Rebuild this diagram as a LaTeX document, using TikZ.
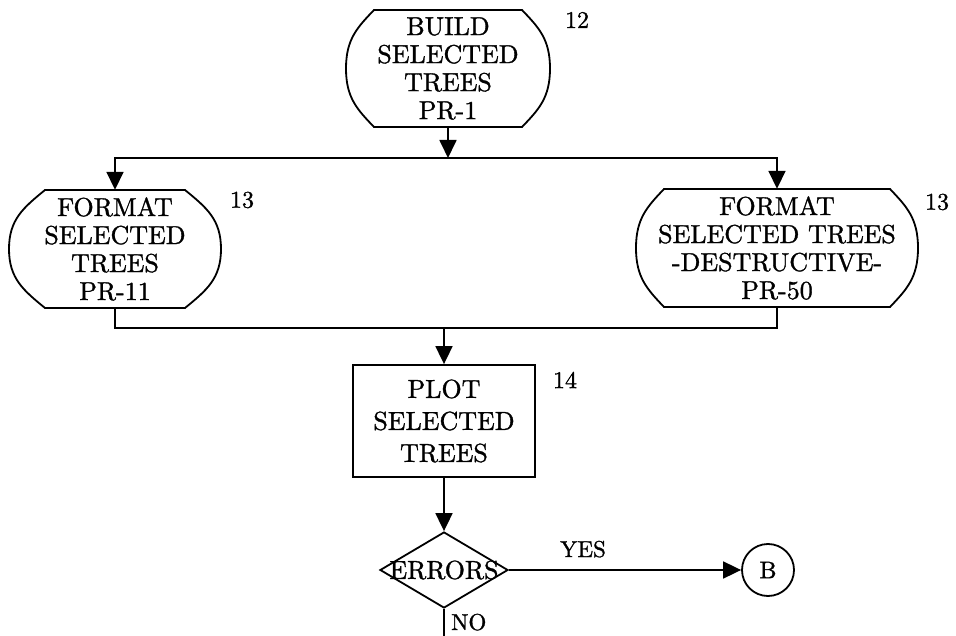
\documentclass[tikz,border=0pt]{standalone}
\usepackage{fontspec}
\setmainfont{lmroman10-regular}[Extension=.otf, FakeBold=1.2]
\usetikzlibrary{arrows.meta,calc,shapes.geometric}

% Outline of a terminal box: flat top and bottom, bulging sides.
% #1 node name, #2 half width of the flat edges, #3 bulge, #4 half height
\newcommand\termoutline[4]{%
  \draw[line]
    ($(#1.center)+(-#2,-#4)$) -- ($(#1.center)+(#2,-#4)$)
    .. controls ($(#1.center)+(#2+0.6*#3,-0.7*#4)$) and ($(#1.center)+(#2+#3,-0.5*#4)$)
    .. ($(#1.center)+(#2+#3,0)$)
    .. controls ($(#1.center)+(#2+#3,0.5*#4)$) and ($(#1.center)+(#2+0.6*#3,0.7*#4)$)
    .. ($(#1.center)+(#2,#4)$)
    -- ($(#1.center)+(-#2,#4)$)
    .. controls ($(#1.center)+(-#2-0.6*#3,0.7*#4)$) and ($(#1.center)+(-#2-#3,0.5*#4)$)
    .. ($(#1.center)+(-#2-#3,0)$)
    .. controls ($(#1.center)+(-#2-#3,-0.5*#4)$) and ($(#1.center)+(-#2-0.6*#3,-0.7*#4)$)
    .. cycle;}

\tikzset{
  line/.style={line width=1.8pt, line join=miter},
  arr/.style={line, -{Triangle[length=18pt,width=17pt]}},
  term/.style={inner sep=0pt, minimum height=118pt, align=center,
    font=\fontsize{26}{28}\selectfont},
  procbox/.style={line, draw, inner sep=0pt, minimum width=182pt,
    minimum height=112pt, align=center, font=\fontsize{26}{32}\selectfont},
  decision/.style={line, draw, diamond, inner sep=0pt,
    minimum width=128pt, minimum height=76pt},
  conn/.style={line, draw, circle, inner sep=0pt, minimum size=52pt,
    font=\fontsize{24}{26}\selectfont},
  stepno/.style={font=\fontsize{24}{26}\selectfont},
  flowlabel/.style={font=\fontsize{23}{25}\selectfont}
}

\begin{document}
\begin{tikzpicture}[x=1pt,y=-1pt]
\useasboundingbox (0,0) rectangle (956,636);

% process steps
\node[term] (build) at (448,68.5) {BUILD\\SELECTED\\TREES\\PR-1};
\termoutline{build}{74}{28}{58.5}
\node[stepno] (n12) at (577,20) {12};

\node[term] (fmtA) at (115,249) {FORMAT\\SELECTED\\TREES\\PR-11};
\termoutline{fmtA}{70}{36}{59}
\node[stepno] (n13a) at (242,200) {13};

\node[term] (fmtB) at (777,248) {FORMAT\\SELECTED TREES\\-DESTRUCTIVE-\\PR-50};
\termoutline{fmtB}{113}{28}{59}
\node[stepno] (n13b) at (937,202) {13};

\node[procbox] (plot) at (444,421) {PLOT\\SELECTED\\TREES};
\node[stepno] (n14) at (565,380) {14};

\node[decision] (errd) at (444,570) {};
\node[font=\fontsize{26}{28}\selectfont, inner sep=0pt] (errt) at (444,570) {ERRORS};

\node[conn] (exitB) at (768,570) {B};

% connectors
\coordinate (split) at (448,158);
\coordinate (join) at (444,328);
\coordinate (noexit) at (444,636);

\draw[arr] (build.south) -- (split);
\draw[arr] (split) -| (fmtA.north);
\draw[arr] (split) -| (fmtB.north);

\draw[line] (fmtA.south) |- (join);
\draw[line] (fmtB.south) |- (join);
\draw[arr] (join) -- (plot.north);

\draw[arr] (plot.south) -- (errd.north);
\draw[arr] (errd.east) -- (exitB.west);
\node[flowlabel, anchor=base] (yes) at (583,557) {YES};
\draw[line] (errd.south) -- (noexit);
\node[flowlabel, anchor=base west, inner sep=0pt] (no) at (451,630) {NO};
\end{tikzpicture}
\end{document}
